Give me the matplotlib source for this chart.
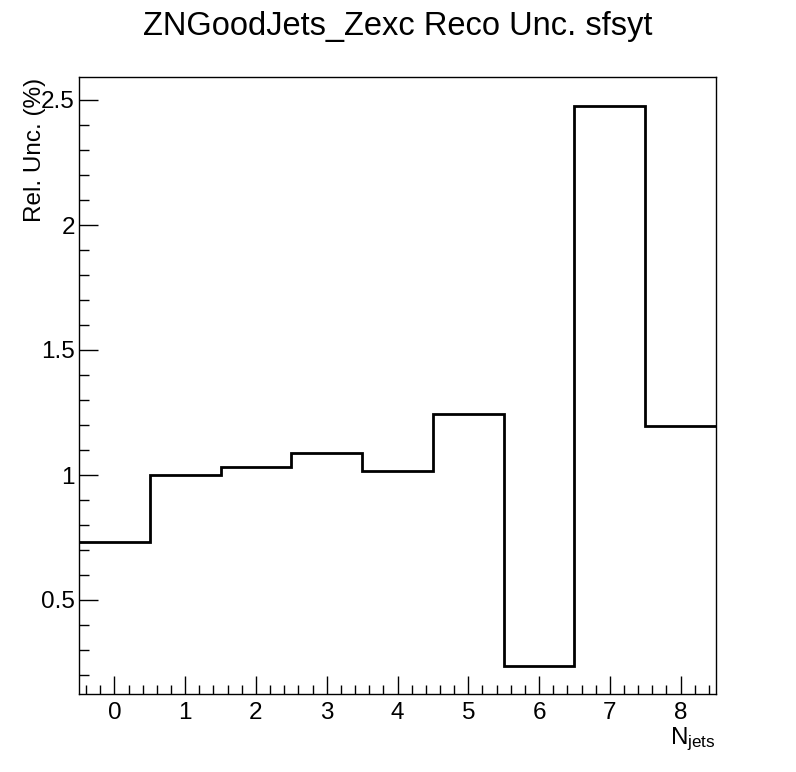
import numpy as np
import matplotlib.pyplot as plt
from matplotlib.ticker import MultipleLocator, FuncFormatter

plt.rcParams['font.family'] = ['Liberation Sans', 'DejaVu Sans']
plt.rcParams['mathtext.fontset'] = 'custom'
plt.rcParams['mathtext.rm'] = 'Liberation Sans'
plt.rcParams['mathtext.it'] = 'Liberation Sans'

title = "ZNGoodJets_Zexc Reco Unc. sfsyt"
ylabel = "Rel. Unc. (%)"
xlabel = r"N$_{\mathrm{jets}}$"

edges = [-0.5, 0.5, 1.5, 2.5, 3.5, 4.5, 5.5, 6.5, 7.5, 8.5]
rel_unc = [0.733, 1.0, 1.033, 1.089, 1.017, 1.244, 0.237, 2.476, 1.197]

W, H = 796, 772
fig = plt.figure(figsize=(W / 100, H / 100), dpi=100)
ax = fig.add_axes([79 / W, 1 - 694 / H, (716 - 79) / W, (694 - 77) / H])

ax.stairs(rel_unc, edges, color='black', linewidth=2.0, baseline=None)

ax.set_xlim(-0.5, 8.5)
ax.set_ylim(0.124, 2.592)

ax.xaxis.set_major_locator(MultipleLocator(1))
ax.xaxis.set_minor_locator(MultipleLocator(0.2))
ax.yaxis.set_major_locator(MultipleLocator(0.5))
ax.yaxis.set_minor_locator(MultipleLocator(0.1))
ax.yaxis.set_major_formatter(FuncFormatter(lambda v, p: f"{v:g}"))

ax.tick_params(which='both', direction='in', top=False, right=False, width=1)
ax.tick_params(axis='x', which='major', length=13, pad=6, labelsize=17.5)
ax.tick_params(axis='x', which='minor', length=6.5)
ax.tick_params(axis='y', which='major', length=13.5, pad=3, labelsize=17.5)
ax.tick_params(axis='y', which='minor', length=7)
for s in ax.spines.values():
    s.set_linewidth(1)

fig.text(0.5, 1 - 26 / H, title, ha='center', va='center', fontsize=23.5)
fig.text(35 / W, 1 - 78 / H, ylabel, rotation=90, ha='center', va='top', fontsize=17.5)
fig.text(716 / W, 1 - 744 / H, xlabel, ha='right', va='baseline', fontsize=17.5)

fig.savefig('out.png', dpi=100)
